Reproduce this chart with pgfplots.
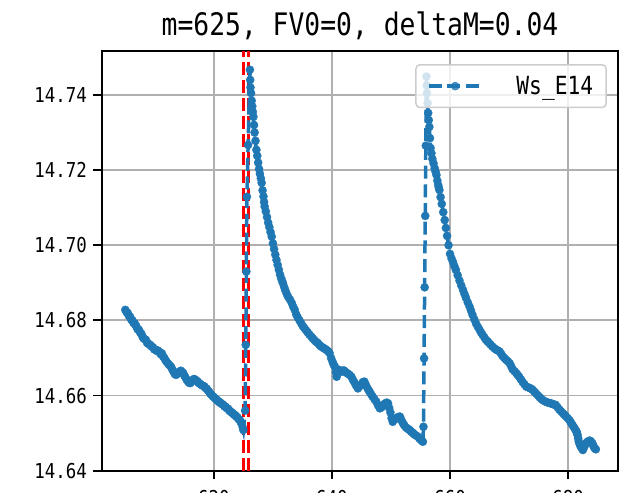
\documentclass[border=0pt]{standalone}
\usepackage{pgfplots}
\pgfplotsset{compat=1.18}
\usepackage{fontspec}
\setmainfont{DejaVu Sans Mono}[FakeStretch=0.85]
\definecolor{mplblue}{HTML}{1F77B4}
\definecolor{gridgray}{HTML}{B0B0B0}
\definecolor{legendgray}{HTML}{CCCCCC}
\pgfplotstableread{
x y
605.0 14.6828
605.2 14.6822
605.4 14.6820
605.6 14.6812
605.8 14.6810
606.0 14.6802
606.2 14.6800
606.4 14.6793
606.6 14.6792
606.8 14.6786
606.9 14.6783
607.1 14.6776
607.3 14.6775
607.5 14.6768
607.7 14.6765
607.9 14.6757
608.1 14.6752
608.3 14.6750
608.5 14.6748
608.7 14.6740
608.9 14.6738
609.1 14.6736
609.3 14.6733
609.5 14.6730
609.7 14.6728
609.9 14.6723
610.1 14.6722
610.3 14.6719
610.5 14.6720
610.7 14.6716
610.9 14.6715
611.0 14.6710
611.2 14.6712
611.4 14.6704
611.6 14.6700
611.8 14.6694
612.0 14.6690
612.2 14.6686
612.4 14.6682
612.6 14.6679
612.8 14.6675
613.0 14.6668
613.2 14.6663
613.4 14.6657
613.6 14.6655
613.8 14.6658
614.0 14.6660
614.2 14.6664
614.4 14.6666
614.6 14.6663
614.8 14.6660
615.0 14.6653
615.2 14.6648
615.4 14.6642
615.6 14.6638
615.8 14.6634
616.0 14.6633
616.2 14.6637
616.4 14.6640
616.6 14.6644
616.8 14.6643
617.0 14.6640
617.2 14.6638
617.4 14.6634
617.6 14.6632
617.8 14.6629
618.0 14.6627
618.2 14.6626
618.4 14.6624
618.6 14.6620
618.8 14.6618
619.0 14.6613
619.2 14.6610
619.4 14.6605
619.6 14.6602
619.8 14.6598
620.0 14.6596
620.2 14.6592
620.4 14.6590
620.6 14.6586
620.8 14.6585
621.0 14.6581
621.2 14.6580
621.4 14.6577
621.6 14.6575
621.8 14.6571
622.0 14.6570
622.2 14.6566
622.4 14.6565
622.6 14.6560
622.8 14.6558
623.0 14.6555
623.2 14.6553
623.4 14.6549
623.6 14.6548
623.8 14.6544
624.0 14.6542
624.2 14.6537
624.4 14.6535
624.6 14.6528
624.7 14.6525
624.9 14.6515
625.0 14.6508
625.3 14.6560
625.4 14.6735
625.5 14.6930
625.6 14.7129
625.8 14.7267
626.1 14.7467
626.15 14.7440
626.2 14.7420
626.3 14.7405
626.4 14.7385
626.5 14.7370
626.6 14.7355
626.7 14.7342
626.8 14.7320
626.9 14.7300
627.05 14.7278
627.2 14.7254
627.35 14.7238
627.5 14.7220
627.65 14.7203
627.8 14.7190
627.95 14.7178
628.1 14.7166
628.25 14.7146
628.4 14.7130
628.5 14.7115
628.6 14.7103
628.8 14.7090
629.0 14.7075
629.2 14.7060
629.4 14.7048
629.6 14.7035
629.8 14.7023
630.0 14.7005
630.2 14.6990
630.4 14.6975
630.6 14.6961
630.8 14.6948
631.0 14.6935
631.2 14.6922
631.4 14.6912
631.55 14.6905
631.7 14.6899
631.9 14.6889
632.1 14.6880
632.35 14.6870
632.6 14.6862
632.9 14.6855
633.2 14.6846
633.45 14.6836
633.7 14.6828
633.95 14.6816
634.2 14.6808
634.5 14.6800
634.8 14.6792
635.05 14.6785
635.3 14.6780
635.6 14.6774
635.9 14.6768
636.2 14.6762
636.5 14.6757
636.75 14.6752
637.0 14.6748
637.3 14.6743
637.6 14.6740
637.85 14.6735
638.1 14.6731
638.35 14.6729
638.6 14.6726
638.85 14.6724
639.1 14.6721
639.35 14.6718
639.6 14.6713
639.85 14.6700
640.1 14.6690
640.3 14.6682
640.5 14.6677
640.65 14.6662
640.8 14.6650
641.05 14.6660
641.3 14.6668
641.55 14.6665
641.8 14.6664
642.0 14.6667
642.2 14.6664
642.45 14.6661
642.7 14.6658
643.0 14.6655
643.3 14.6650
643.55 14.6642
643.8 14.6635
644.1 14.6626
644.4 14.6619
644.7 14.6625
645.0 14.6630
645.25 14.6636
645.5 14.6637
645.75 14.6628
646.0 14.6620
646.2 14.6614
646.4 14.6610
646.65 14.6603
646.9 14.6597
647.2 14.6590
647.5 14.6584
647.8 14.6574
648.1 14.6566
648.35 14.6568
648.6 14.6572
648.85 14.6577
649.1 14.6580
649.3 14.6581
649.5 14.6579
649.7 14.6567
649.9 14.6555
650.1 14.6540
650.3 14.6530
650.6 14.6536
650.9 14.6540
651.2 14.6543
651.5 14.6544
651.7 14.6537
651.9 14.6530
652.1 14.6524
652.3 14.6520
652.55 14.6515
652.8 14.6512
653.0 14.6510
653.2 14.6508
653.4 14.6504
653.6 14.6502
653.8 14.6499
654.0 14.6496
654.3 14.6493
654.6 14.6490
654.8 14.6486
655.0 14.6483
655.2 14.6480
655.4 14.6477
655.5 14.6517
655.6 14.6699
655.7 14.6888
655.8 14.7078
655.9 14.7265
656.0 14.7449
656.05 14.7425
656.1 14.7405
656.2 14.7378
656.3 14.7352
656.4 14.7333
656.5 14.7315
656.6 14.7285
656.7 14.7259
656.85 14.7245
657.0 14.7230
657.2 14.7218
657.4 14.7205
657.55 14.7196
657.7 14.7187
657.85 14.7172
658.0 14.7160
658.1 14.7153
658.2 14.7147
658.4 14.7128
658.6 14.7110
658.85 14.7088
659.1 14.7067
659.3 14.7046
659.5 14.7025
659.75 14.7000
660.0 14.6977
660.25 14.6965
660.5 14.6955
660.75 14.6944
661.0 14.6934
661.3 14.6920
661.6 14.6906
661.9 14.6893
662.2 14.6881
662.45 14.6870
662.7 14.6860
663.0 14.6848
663.3 14.6837
663.55 14.6826
663.8 14.6815
664.1 14.6803
664.4 14.6792
664.7 14.6783
665.0 14.6775
665.25 14.6768
665.5 14.6762
665.8 14.6755
666.1 14.6748
666.35 14.6744
666.6 14.6740
666.9 14.6735
667.2 14.6730
667.5 14.6726
667.8 14.6722
668.1 14.6720
668.4 14.6717
668.65 14.6711
668.9 14.6705
669.2 14.6700
669.5 14.6695
669.8 14.6691
670.1 14.6686
670.35 14.6678
670.6 14.6670
670.9 14.6665
671.2 14.6660
671.45 14.6655
671.7 14.6650
672.0 14.6643
672.3 14.6636
672.6 14.6630
672.9 14.6624
673.2 14.6622
673.5 14.6620
673.75 14.6618
674.0 14.6615
674.3 14.6610
674.6 14.6605
674.9 14.6600
675.2 14.6595
675.45 14.6591
675.7 14.6588
676.0 14.6585
676.3 14.6583
676.6 14.6581
676.9 14.6580
677.15 14.6579
677.4 14.6577
677.65 14.6576
677.9 14.6575
678.2 14.6569
678.5 14.6563
678.8 14.6558
679.1 14.6553
679.35 14.6549
679.6 14.6545
679.9 14.6540
680.2 14.6535
680.4 14.6530
680.6 14.6525
680.8 14.6520
681.0 14.6515
681.2 14.6510
681.4 14.6505
681.5 14.6500
681.6 14.6495
681.7 14.6486
681.8 14.6478
681.95 14.6471
682.1 14.6465
682.3 14.6460
682.5 14.6455
682.7 14.6462
682.9 14.6470
683.1 14.6474
683.3 14.6477
683.5 14.6479
683.7 14.6480
683.9 14.6477
684.1 14.6473
684.25 14.6467
684.4 14.6462
684.55 14.6459
684.7 14.6457
}\wsdata
\begin{document}
\begin{tikzpicture}
\begin{axis}[
  scale only axis, width=516.6bp, height=419.7bp,
  xmin=601.0, xmax=688.5, ymin=14.64, ymax=14.7517,
  xtick={620,640,660,680}, xticklabels={620,640,660,680},
  ytick={14.64,14.66,14.68,14.70,14.72,14.74},
  yticklabels={14.64,14.66,14.68,14.70,14.72,14.74},
  xtick pos=left, ytick pos=left,
  tick align=outside, major tick length=8.3bp,
  tick style={black, line width=1.9bp},
  axis line style={line width=1.9bp},
  grid=major, grid style={gridgray, line width=1.9bp},
  ticklabel style={font=\fontsize{20.5bp}{24bp}\selectfont},
  yticklabel style={xshift=-3bp},
  xticklabel style={yshift=-8bp},
  title={m=625, FV0=0, deltaM=0.04},
  title style={font=\fontsize{31bp}{35bp}\selectfont, at={(0.5,1)}, anchor=base, yshift=10bp, inner sep=0pt},
  legend style={at={(0.978,0.969)}, anchor=north east, draw=legendgray, line width=1.5bp,
    fill=white, fill opacity=0.8, text opacity=1, rounded corners=4bp,
    inner xsep=11bp, inner ysep=9.5bp, font=\fontsize{25bp}{28bp}\selectfont},
  legend cell align=left,
  legend image code/.code={\draw[#1, mark repeat=2, mark phase=2] plot coordinates {(0bp,0bp) (26.5bp,0bp) (53bp,0bp)};},
]
\addplot[red, line width=3.3bp, dash pattern=on 12.5bp off 5.5bp, forget plot] coordinates {(625.0,14.64) (625.0,14.7517)};
\addplot[red, line width=3.3bp, dash pattern=on 12.5bp off 5.5bp, forget plot] coordinates {(625.9,14.64) (625.9,14.7517)};
\addplot[mplblue, line width=3.5bp, dash pattern=on 13bp off 5.7bp, mark=*, mark size=4.1bp,
  mark options={solid, fill=mplblue, draw=mplblue, line width=0.3bp}] table[x=x, y=y] {\wsdata};
\addlegendentry{\hspace{31bp}Ws\_E14}
\end{axis}
\pgfresetboundingbox
\useasboundingbox ([shift={(-101.7bp,-22.3bp)}]current axis.south west) rectangle ([shift={(2.7bp,51bp)}]current axis.north east);
\end{tikzpicture}
\end{document}
